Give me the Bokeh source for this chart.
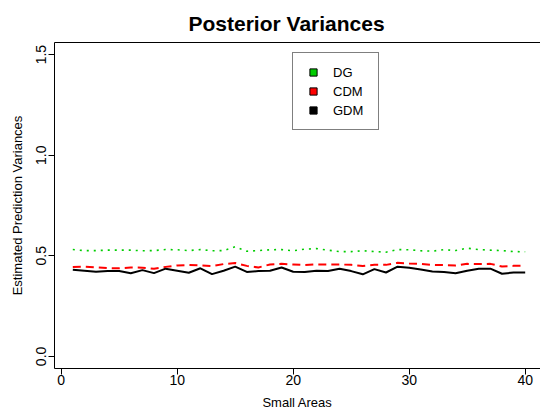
from bokeh.plotting import figure
from bokeh.models import (Range1d, FixedTicker, PrintfTickFormatter, LinearAxis,
                          Legend, LegendItem, ColumnDataSource)
from bokeh.embed import file_html
from bokeh.resources import INLINE

areas = list(range(1, 41))
dg = [0.531, 0.526, 0.526, 0.528, 0.528, 0.528, 0.525, 0.526, 0.531, 0.530,
      0.526, 0.531, 0.525, 0.526, 0.545, 0.523, 0.526, 0.530, 0.531, 0.525,
      0.533, 0.536, 0.528, 0.521, 0.521, 0.525, 0.521, 0.518, 0.531, 0.530,
      0.525, 0.523, 0.531, 0.526, 0.538, 0.531, 0.528, 0.526, 0.521, 0.520]
cdm = [0.444, 0.446, 0.443, 0.439, 0.438, 0.442, 0.441, 0.436, 0.445, 0.452,
       0.454, 0.452, 0.449, 0.459, 0.464, 0.450, 0.442, 0.457, 0.460, 0.457,
       0.454, 0.457, 0.457, 0.457, 0.455, 0.449, 0.455, 0.455, 0.465, 0.462,
       0.460, 0.455, 0.454, 0.452, 0.460, 0.459, 0.460, 0.447, 0.450, 0.450]
gdm = [0.431, 0.426, 0.421, 0.424, 0.424, 0.413, 0.429, 0.414, 0.436, 0.426,
       0.416, 0.438, 0.409, 0.426, 0.446, 0.420, 0.424, 0.426, 0.442, 0.421,
       0.419, 0.426, 0.424, 0.436, 0.424, 0.408, 0.434, 0.417, 0.446, 0.441,
       0.432, 0.422, 0.419, 0.413, 0.426, 0.436, 0.436, 0.411, 0.417, 0.417]
series_names = ["DG", "CDM", "GDM"]
series_colors = ["#00CD00", "#FF0000", "#000000"]
x_ticks = [0, 10, 20, 30, 40]
y_ticks = [0.0, 0.5, 1.0, 1.5]

FONT = "Liberation Sans"

p = figure(width=540, height=412, output_backend="svg", toolbar_location=None,
           x_range=Range1d(-0.578, 41.32), y_range=Range1d(-0.06, 1.56),
           min_border_left=54, min_border_right=0, min_border_top=42,
           min_border_bottom=44, x_axis_label="Small Areas",
           y_axis_label="Estimated Prediction Variances")
p.title.text = "Posterior Variances"
p.title.text_font = FONT
p.title.text_font_size = "21px"
p.title.text_font_style = "bold"
p.title.text_color = "black"
p.title.align = "left"
p.title.offset = 134
p.title.standoff = 16
p.outline_line_color = None
p.grid.visible = False
p.background_fill_color = "white"
p.border_fill_color = "white"

for ax in (p.xaxis[0], p.yaxis[0]):
    ax.axis_line_color = "black"
    ax.axis_line_width = 1
    ax.major_tick_line_color = "black"
    ax.major_tick_out = 6
    ax.major_tick_in = 0
    ax.minor_tick_line_color = None
    ax.major_label_text_font = FONT
    ax.major_label_text_font_size = "14px"
    ax.major_label_text_color = "black"
    ax.axis_label_text_font = FONT
    ax.axis_label_text_font_size = "13px"
    ax.axis_label_text_font_style = "normal"
    ax.axis_label_text_color = "black"

p.xaxis[0].ticker = FixedTicker(ticks=x_ticks)
p.xaxis[0].major_label_standoff = 0
p.xaxis[0].axis_label_standoff = 7
p.yaxis[0].ticker = FixedTicker(ticks=y_ticks)
p.yaxis[0].formatter = PrintfTickFormatter(format="%.1f")
p.yaxis[0].major_label_orientation = "vertical"
p.yaxis[0].major_label_standoff = 2
p.yaxis[0].axis_label_standoff = 9

top = LinearAxis(ticker=FixedTicker(ticks=[]), major_label_text_font_size="0px",
                 major_tick_out=0, major_tick_in=0, minor_tick_out=0,
                 minor_tick_in=0, axis_line_color="black")
p.add_layout(top, "above")

src = ColumnDataSource(dict(x=areas, dg=dg, cdm=cdm, gdm=gdm))
p.line("x", "dg", source=src, line_color=series_colors[0], line_width=1.6,
       line_dash="2 5")
p.line("x", "cdm", source=src, line_color=series_colors[1], line_width=2,
       line_dash="8 5")
p.line("x", "gdm", source=src, line_color=series_colors[2], line_width=2)

nan = float("nan")
items = []
for name, col in zip(series_names, series_colors):
    r = p.scatter(x=[nan], y=[nan], marker="square", fill_color=col,
                  line_color="black", line_width=1)
    items.append(LegendItem(label=name, renderers=[r]))

legend = Legend(items=items, location=(238, 238), margin=0, padding=10,
                glyph_width=20, glyph_height=18, label_height=18, spacing=1,
                label_standoff=10, label_width=35,
                label_text_font=FONT, label_text_font_size="13px",
                label_text_color="black", border_line_color="black",
                border_line_width=1, background_fill_color="white",
                background_fill_alpha=1)
p.add_layout(legend, "center")

open("out.html", "w").write(file_html(p, INLINE))
